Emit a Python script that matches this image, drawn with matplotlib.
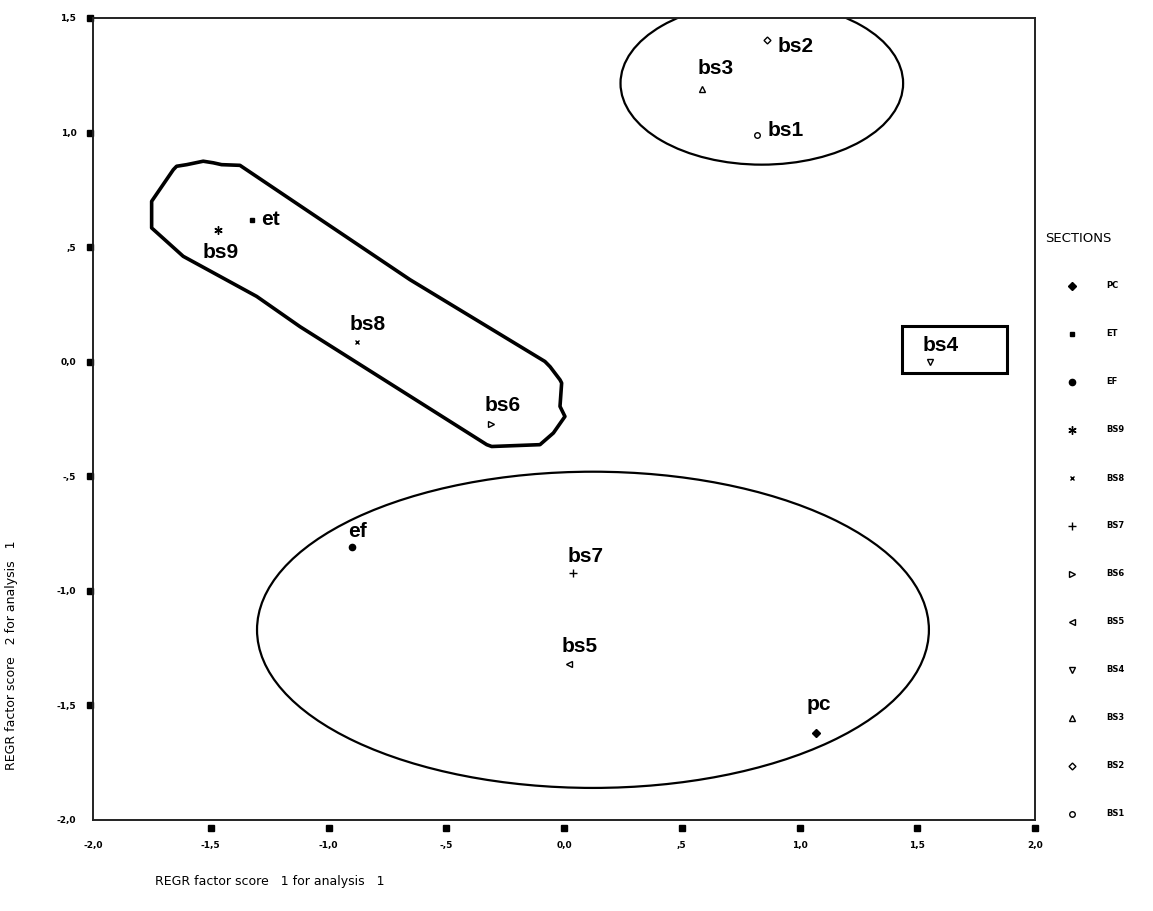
import matplotlib
matplotlib.use('Agg')
import matplotlib.pyplot as plt
from matplotlib.patches import Ellipse, Rectangle, Polygon
from matplotlib.lines import Line2D
import matplotlib.transforms as mtransforms
import numpy as np

# factor scores
sections = ['pc', 'et', 'ef', 'bs9', 'bs8', 'bs7', 'bs6', 'bs5', 'bs4', 'bs3', 'bs2', 'bs1']
score1 = [1.07, -1.325, -0.90, -1.47, -0.88, 0.04, -0.31, 0.02, 1.555, 0.585, 0.86, 0.82]
score2 = [-1.62, 0.62, -0.81, 0.575, 0.087, -0.92, -0.27, -1.32, 0.0, 1.19, 1.405, 0.99]
legend_labels = ['PC', 'ET', 'EF', 'BS9', 'BS8', 'BS7', 'BS6', 'BS5', 'BS4', 'BS3', 'BS2', 'BS1']

x_ticks = [-2.0, -1.5, -1.0, -0.5, 0.0, 0.5, 1.0, 1.5, 2.0]
x_tick_labels = ['-2,0', '-1,5', '-1,0', '-,5', '0,0', ',5', '1,0', '1,5', '2,0']
y_ticks = [1.5, 1.0, 0.5, 0.0, -0.5, -1.0, -1.5, -2.0]
y_tick_labels = ['1,5', '1,0', ',5', '0,0', '-,5', '-1,0', '-1,5', '-2,0']

# groups drawn around the sections
top_ellipse = (0.84, 1.215, 1.20, 0.71)        # cx, cy, width, height
bottom_ellipse = (0.123, -1.17, 2.853, 1.38)
bs4_box = (1.435, -0.048, 1.881, 0.157)        # x0, y0, x1, y1
hull_x = [-1.751, -1.751, -1.659, -1.645, -1.602, -1.532, -1.489, -1.454, -1.376, -0.654,
          -0.081, -0.059, -0.017, -0.010, -0.017, 0.004, -0.045, -0.102, -0.307, -0.328,
          -1.121, -1.305, -1.617]
hull_y = [0.584, 0.700, 0.838, 0.853, 0.860, 0.875, 0.868, 0.860, 0.857, 0.358,
          0.001, -0.022, -0.079, -0.093, -0.195, -0.239, -0.311, -0.362, -0.370, -0.362,
          0.153, 0.285, 0.460]

# marker style per section: (marker, filled, size)
styles = {
    'pc': ('D', True, 4.5), 'et': ('s', True, 3.5), 'ef': ('o', True, 4.5),
    'bs9': ((6, 2, 0), False, 6), 'bs8': ('x', False, 3.5), 'bs7': ('+', False, 6),
    'bs6': ('>', False, 4), 'bs5': ('<', False, 4), 'bs4': ('v', False, 4),
    'bs3': ('^', False, 4), 'bs2': ('D', False, 3.5), 'bs1': ('o', False, 4),
}
# label offsets from the marker in pixels (left edge, baseline)
label_offsets = {
    'pc': (-9, 23), 'et': (9, -5), 'ef': (-4, 10), 'bs9': (-15, -28), 'bs8': (-7, 12),
    'bs7': (-6, 11), 'bs6': (-6, 13), 'bs5': (-7, 12), 'bs4': (-8, 11), 'bs3': (-4, 15),
    'bs2': (11, -12), 'bs1': (10, -1),
}

W, H = 1153, 911
fig = plt.figure(figsize=(W / 100, H / 100), dpi=100)
ax = fig.add_axes([93 / W, 1 - 820 / H, (1035 - 93) / W, (820 - 18) / H])
ax.set_xlim(-2, 2)
ax.set_ylim(-2, 1.5)

for spine in ax.spines.values():
    spine.set_linewidth(1.4)
    spine.set_color('#222222')

ax.set_xticks(x_ticks)
ax.set_xticklabels(x_tick_labels)
ax.set_yticks(y_ticks)
ax.set_yticklabels(y_tick_labels)
ax.tick_params(length=0, labelsize=6.5)
ax.tick_params(axis='x', pad=15)
ax.tick_params(axis='y', pad=12)
for lab in ax.get_xticklabels() + ax.get_yticklabels():
    lab.set_fontweight('bold')
    lab.set_family(['Liberation Sans Narrow', 'DejaVu Sans'])

# square tick marks
tx = mtransforms.blended_transform_factory(ax.transData, ax.transAxes)
ax.plot(x_ticks[1:], [-0.010] * (len(x_ticks) - 1), 's', color='black', ms=4,
        transform=tx, clip_on=False)
ty = mtransforms.blended_transform_factory(ax.transAxes, ax.transData)
ax.plot([-0.003] * (len(y_ticks) - 1), y_ticks[:-1], 's', color='black', ms=4,
        transform=ty, clip_on=False)

# group outlines
cx, cy, w, h = top_ellipse
ax.add_patch(Ellipse((cx, cy), w, h, fill=False, lw=1.6, ec='black'))
cx, cy, w, h = bottom_ellipse
ax.add_patch(Ellipse((cx, cy), w, h, fill=False, lw=1.6, ec='black'))
x0, y0, x1, y1 = bs4_box
ax.add_patch(Rectangle((x0, y0), x1 - x0, y1 - y0, fill=False, lw=2.2, ec='black'))
ax.add_patch(Polygon(np.column_stack([hull_x, hull_y]), closed=True, fill=False,
                     lw=2.6, ec='black', joinstyle='round'))

# points and labels
for name, x, y in zip(sections, score1, score2):
    marker, filled, size = styles[name]
    ax.plot(x, y, linestyle='none', marker=marker, ms=size, color='black',
            mfc='black' if filled else 'white', mew=1.0)
    dx, dy = label_offsets[name]
    ax.annotate(name, (x, y), xytext=(dx, dy), textcoords='offset pixels',
                ha='left', va='baseline', fontsize=15, fontweight='bold',
                family=['Liberation Sans', 'DejaVu Sans'])

# legend on the right, laid out in figure pixels
fig.text(1045 / W, 1 - 238 / H, 'SECTIONS', fontsize=9.5, va='center', ha='left',
         family=['Liberation Sans Narrow', 'DejaVu Sans'])
for i, name in enumerate(sections):
    ypix = 286 + i * 48
    marker, filled, size = styles[name]
    fig.add_artist(Line2D([1072 / W], [1 - ypix / H], linestyle='none', marker=marker,
                          ms=size, color='black', mfc='black' if filled else 'white',
                          mew=1.0, transform=fig.transFigure))
    fig.text(1106 / W, 1 - ypix / H, legend_labels[i], fontsize=6, va='center', ha='left',
             fontweight='bold', family=['Liberation Sans Narrow', 'DejaVu Sans'])

fig.text(155 / W, 1 - 882 / H, 'REGR factor score   1 for analysis   1', fontsize=9,
         va='center', ha='left', family=['Liberation Sans Narrow', 'DejaVu Sans'])
fig.text(12 / W, 1 - 655 / H, 'REGR factor score   2 for analysis   1', fontsize=9,
         va='center', ha='center', rotation=90,
         family=['Liberation Sans Narrow', 'DejaVu Sans'])

fig.savefig('out.png', dpi=100, facecolor='white')
